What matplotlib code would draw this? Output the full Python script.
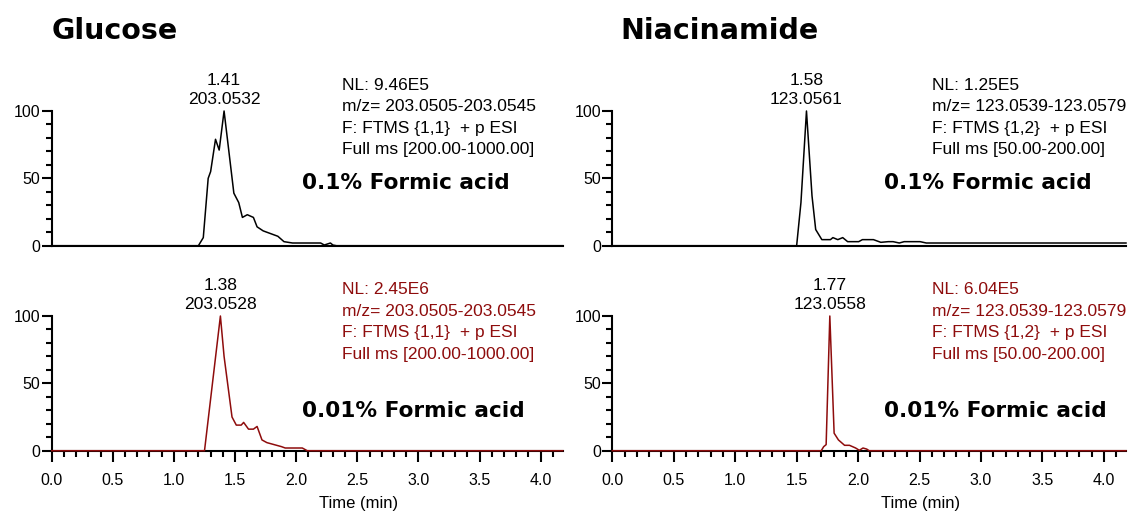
import matplotlib
matplotlib.use('Agg')
import matplotlib.pyplot as plt
from matplotlib.ticker import MultipleLocator

W, H = 1133, 514

# Glucose EIC, 0.1% formic acid
glc_a_t = [0.0, 1.20, 1.24, 1.28, 1.30, 1.34, 1.37, 1.41, 1.49, 1.53, 1.56, 1.60,
           1.65, 1.68, 1.73, 1.79, 1.85, 1.90, 1.97, 2.20, 2.23, 2.28, 2.30, 2.33, 4.18]
glc_a_y = [0, 0, 6, 50, 55, 79, 71, 100, 39, 32, 21, 23,
           21, 14, 11, 9, 7, 3, 2, 2, 0.5, 2, 0.5, 0, 0]

# Niacinamide EIC, 0.1% formic acid
nia_a_t = [0.0, 1.50, 1.535, 1.58, 1.625, 1.655, 1.705, 1.775, 1.795, 1.835, 1.875,
           1.915, 2.005, 2.035, 2.125, 2.185, 2.245, 2.285, 2.335, 2.375, 2.505, 2.555, 4.18]
nia_a_y = [0, 0, 32, 100, 37, 12, 4.5, 4.5, 6, 4.5, 6,
           3, 3, 4.5, 4.5, 2.5, 3, 3, 2, 3, 3, 2, 2]

# Glucose EIC, 0.01% formic acid
glc_b_t = [0.0, 1.25, 1.38, 1.41, 1.475, 1.51, 1.55, 1.57, 1.61, 1.65, 1.68,
           1.72, 1.76, 1.82, 1.88, 1.91, 2.05, 2.09, 4.18]
glc_b_y = [0, 0, 100, 70, 25, 19, 19, 21, 16, 16, 18,
           8, 6, 4.5, 3, 2, 2, 0, 0]

# Niacinamide EIC, 0.01% formic acid
nia_b_t = [0.0, 1.70, 1.72, 1.74, 1.77, 1.805, 1.84, 1.89, 1.93, 1.98, 2.01,
           2.04, 2.07, 2.09, 4.18]
nia_b_y = [0, 0, 3, 4.5, 100, 13, 8, 4, 4, 2, 0.3,
           2, 1.2, 0, 0]

# apex labels: retention time, m/z
peak_labels = [(1.41, '203.0532'), (1.58, '123.0561'),
               (1.38, '203.0528'), (1.77, '123.0558')]

info_glc_a = ['NL: 9.46E5', 'm/z= 203.0505-203.0545',
              'F: FTMS {1,1}  + p ESI', 'Full ms [200.00-1000.00]']
info_nia_a = ['NL: 1.25E5', 'm/z= 123.0539-123.0579',
              'F: FTMS {1,2}  + p ESI', 'Full ms [50.00-200.00]']
info_glc_b = ['NL: 2.45E6', 'm/z= 203.0505-203.0545',
              'F: FTMS {1,1}  + p ESI', 'Full ms [200.00-1000.00]']
info_nia_b = ['NL: 6.04E5', 'm/z= 123.0539-123.0579',
              'F: FTMS {1,2}  + p ESI', 'Full ms [50.00-200.00]']

conditions = ['0.1% Formic acid', '0.01% Formic acid']
compounds = ['Glucose', 'Niacinamide']

BLACK = '#000000'
RED = '#8e0c0c'
SANS = 'Liberation Sans'
BOLD = 'DejaVu Sans'

fig = plt.figure(figsize=(W / 100, H / 100), dpi=100)


def px_axes(x0, x1, y_top, y_bot):
    return fig.add_axes([x0 / W, 1 - y_bot / H, (x1 - x0) / W, (y_bot - y_top) / H])


def chromatogram(ax, t, y, color, peak, info, info_x, info_y, cond, cond_x, cond_y, bottom_row):
    ax.plot(t, y, color=color, lw=1.1, clip_on=False, zorder=5)
    ax.set_xlim(0, 4.18)
    ax.set_ylim(0, 100)
    for s in ['top', 'right']:
        ax.spines[s].set_visible(False)
    for s in ['left', 'bottom']:
        ax.spines[s].set_linewidth(1.5)
    ax.yaxis.set_major_locator(MultipleLocator(50))
    ax.yaxis.set_minor_locator(MultipleLocator(10))
    ax.tick_params(axis='y', which='major', length=7, width=1.5, labelsize=11.5, pad=1)
    ax.tick_params(axis='y', which='minor', length=4.5, width=1.5)
    if bottom_row:
        ax.xaxis.set_major_locator(MultipleLocator(0.5))
        ax.xaxis.set_minor_locator(MultipleLocator(0.1))
        ax.tick_params(axis='x', which='major', length=8, width=1.5, labelsize=11.5, pad=8)
        ax.tick_params(axis='x', which='minor', length=4.5, width=1.5)
        ax.set_xlabel('Time (min)', fontsize=12, family=SANS)
        ax.xaxis.set_label_coords(0.6, -0.34)
    else:
        ax.set_xticks([])
    for lab in ax.get_xticklabels() + ax.get_yticklabels():
        lab.set_family(SANS)

    rt, mz = peak
    ax.annotate(f'{rt:.2f}\n{mz}', xy=(rt, 100), xytext=(0, 3), textcoords='offset points',
                ha='center', va='bottom', fontsize=12.6, family=SANS, linespacing=1.35)

    for i, line in enumerate(info):
        fig.text(info_x / W, 1 - (info_y + 21.5 * i) / H, line, color=color,
                 fontsize=12.5, family=SANS, ha='left', va='center')
    fig.text(cond_x / W, 1 - cond_y / H, cond, fontsize=15.6, family=BOLD,
             fontweight='bold', ha='left', va='center')


ax1 = px_axes(51.7, 562.7, 111, 245.7)
ax2 = px_axes(612.3, 1126, 111, 245.7)
ax3 = px_axes(51.7, 562.7, 316, 450.7)
ax4 = px_axes(612.3, 1126, 316, 450.7)

chromatogram(ax1, glc_a_t, glc_a_y, BLACK, peak_labels[0], info_glc_a, 342, 85,
             conditions[0], 302, 183, False)
chromatogram(ax2, nia_a_t, nia_a_y, BLACK, peak_labels[1], info_nia_a, 932, 85,
             conditions[0], 884, 183, False)
chromatogram(ax3, glc_b_t, glc_b_y, RED, peak_labels[2], info_glc_b, 342, 290,
             conditions[1], 302, 411, True)
chromatogram(ax4, nia_b_t, nia_b_y, RED, peak_labels[3], info_nia_b, 932, 290,
             conditions[1], 884, 411, True)

fig.text(52 / W, 1 - 31 / H, compounds[0], fontsize=20.5, family=BOLD,
         fontweight='bold', ha='left', va='center')
fig.text(620 / W, 1 - 31 / H, compounds[1], fontsize=20.5, family=BOLD,
         fontweight='bold', ha='left', va='center')

fig.savefig('out.png', dpi=100)
